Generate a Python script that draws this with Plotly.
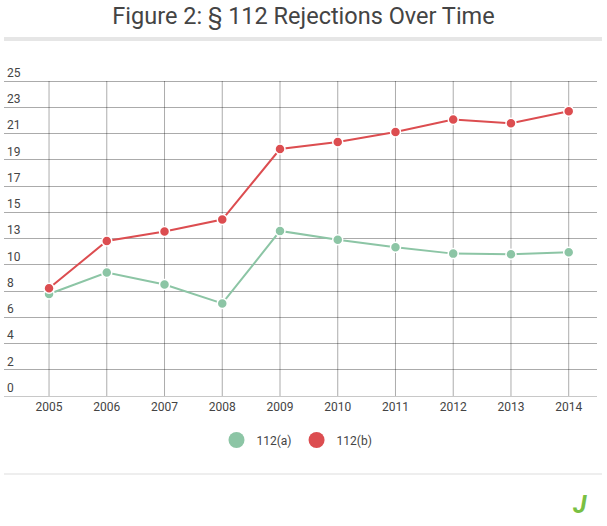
import plotly.graph_objects as go

years = [2005, 2006, 2007, 2008, 2009, 2010, 2011, 2012, 2013, 2014]
rej_112a = [8.1, 9.8, 8.85, 7.35, 13.1, 12.4, 11.8, 11.3, 11.25, 11.4]
rej_112b = [8.55, 12.3, 13.05, 14.0, 19.6, 20.15, 20.95, 21.95, 21.65, 22.6]
ytick_vals = [25 * i / 12 for i in range(13)]
ytick_text = ["0", "2", "4", "6", "8", "10", "13", "15", "17", "19", "21", "23", "25"]

GREEN = "#8cc5a5"
RED = "#dc4d50"
GRID = "rgba(0,0,0,0.33)"
W, H = 607, 526
L, R, T, B = 4, 10, 56, 130
ph = H - T - B
y_top = 25 + (81 - T) / ((396 - 81) / 25)


def py(pix):
    return (H - B - pix) / ph


def px(pix):
    return (pix - L) / (W - L - R)


fig = go.Figure()
for name, vals, col in [("112(a)", rej_112a, GREEN), ("112(b)", rej_112b, RED)]:
    fig.add_trace(go.Scatter(
        x=years, y=vals, mode="lines+markers", name=name, showlegend=False,
        line=dict(color=col, width=2),
        marker=dict(color=col, size=10, line=dict(color="white", width=1.5)),
        hoverinfo="x+y"))
for name, col in [("112(a)", GREEN), ("112(b)", RED)]:
    fig.add_trace(go.Scatter(
        x=[None], y=[None], mode="markers", name=name,
        marker=dict(color=col, size=16)))

shapes = [
    dict(type="rect", xref="paper", yref="paper", x0=px(4), x1=px(602),
         y0=py(37), y1=py(41), fillcolor="#e6e6e6", line=dict(width=0), layer="below"),
    dict(type="line", xref="paper", yref="paper", x0=px(4), x1=px(602),
         y0=py(474), y1=py(474), line=dict(color="#ddd", width=1)),
]
# vertical grid lines at each category, from 0 to the top tick
for yr in years:
    shapes.append(dict(type="line", xref="x", yref="y", x0=yr, x1=yr, y0=0, y1=ytick_vals[-1],
                       line=dict(color=GRID, width=1), layer="below"))

fig.update_layout(
    width=W, height=H,
    margin=dict(l=L, r=R, t=T, b=B, autoexpand=False),
    paper_bgcolor="white", plot_bgcolor="white",
    font=dict(family="Roboto", color="#444", size=12),
    title=dict(text="Figure 2: § 112 Rejections Over Time", x=0.5, xanchor="center",
               y=1 - 16 / H, yanchor="middle",
               font=dict(family="Roboto", size=23.5, color="#444")),
    xaxis=dict(range=[2004.22, 2014.49], tickvals=years, ticktext=[str(y) for y in years],
               showgrid=False, zeroline=False, showline=False,
               ticks="", ticklabelstandoff=2, fixedrange=True),
    yaxis=dict(range=[0, y_top], tickvals=ytick_vals, ticktext=ytick_text,
               ticklabelposition="inside top", showgrid=True,
               gridcolor=GRID, gridwidth=1, zeroline=True, zerolinecolor="#c8c8c8",
               zerolinewidth=1, showline=False, ticks="", fixedrange=True),
    legend=dict(orientation="h", x=px(297), xanchor="center", y=py(440), yanchor="middle",
                font=dict(size=12, color="#444"), itemwidth=30),
    shapes=shapes,
    annotations=[
        dict(text="<b><i>J</i></b>", xref="paper", yref="paper", x=px(580), y=py(504),
             xanchor="center", yanchor="middle", showarrow=False,
             font=dict(family="Roboto", size=25, color="#79c043")),
    ],
)

fig.write_html("out.html", config={"displayModeBar": False},
               post_script="document.body.style.margin='0';document.body.style.overflow='hidden';")
